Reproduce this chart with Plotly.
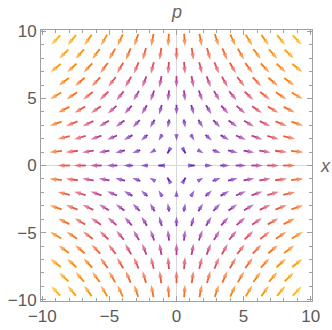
import numpy as np
import plotly.graph_objects as go

# Grid of sample points (hexagonal arrangement)
p_rows = [-9.35, -8.31, -7.27, -6.24, -5.20, -4.16, -3.12, -2.08, -1.04, 0.0,
          1.04, 2.08, 3.12, 4.16, 5.20, 6.24, 7.27, 8.31, 9.35]
x_even = [-8.4, -7.2, -6.0, -4.8, -3.6, -2.4, -1.2, 0.0, 1.2, 2.4, 3.6, 4.8, 6.0, 7.2, 8.4]
x_odd = [-9.0, -7.8, -6.6, -5.4, -4.2, -3.0, -1.8, -0.6, 0.6, 1.8, 3.0, 4.2, 5.4, 6.6, 7.8, 9.0]

# Axis ticks
tick_vals = [-10, -5, 0, 5, 10]

# Colour gradient (small magnitude -> large magnitude)
color_stops = [(0.0, (95, 35, 190)), (0.2, (112, 40, 185)), (0.38, (165, 50, 165)),
               (0.55, (228, 75, 88)), (0.7, (245, 112, 30)), (0.85, (252, 145, 5)),
               (1.0, (255, 178, 0))]


def field(x, p):
    return x, -p


def color_at(t):
    t = min(max(t, 0.0), 1.0)
    for (t0, c0), (t1, c1) in zip(color_stops[:-1], color_stops[1:]):
        if t <= t1:
            f = (t - t0) / (t1 - t0) if t1 > t0 else 0
            c = [round(a + (b - a) * f) for a, b in zip(c0, c1)]
            return "rgb(%d,%d,%d)" % tuple(c)
    return "rgb(%d,%d,%d)" % color_stops[-1][1]


pts = []
for i, p in enumerate(p_rows):
    xs = x_even if i % 2 == 1 else x_odd
    for x in xs:
        if abs(x) < 1e-9 and abs(p) < 1e-9:
            continue
        pts.append((x, p))

mags = [np.hypot(*field(x, p)) for x, p in pts]
mmin, mmax = min(mags), max(mags)
px_per_unit = 13.4

fig = go.Figure()
for (x, p), m in zip(pts, mags):
    u, v = field(x, p)
    L = 13.0 * (1 - np.exp(-m / 3.0)) / px_per_unit
    ux, uy = u / m, v / m
    col = color_at((m - mmin) / (mmax - mmin))
    fig.add_trace(go.Scatter(
        x=[x - 0.5 * L * ux, x + 0.5 * L * ux],
        y=[p - 0.5 * L * uy, p + 0.5 * L * uy],
        mode="lines+markers",
        line=dict(color=col, width=1.8),
        marker=dict(symbol="arrow", size=[0, 7], angleref="previous",
                    color=col, line=dict(width=0)),
        showlegend=False, hoverinfo="skip"))

lab_font = dict(family="Liberation Sans", size=18, color="#666666")
annotations = [
    dict(x=1.048, y=0.5, xref="paper", yref="paper", text="<i>x</i>",
         xanchor="center", yanchor="middle", showarrow=False, font=lab_font),
    dict(x=0.5, y=1.066, xref="paper", yref="paper", text="<i>p</i>",
         xanchor="center", yanchor="middle", showarrow=False, font=lab_font),
]

axis_common = dict(
    range=[-10.1, 10.1], tickvals=tick_vals, ticks="inside", ticklen=5, tickcolor="#a0a0a0",
    showline=True, linecolor="#a0a0a0", linewidth=1, mirror="allticks",
    showgrid=False, zeroline=True, zerolinecolor="#d8d8d8", zerolinewidth=1,
    tickfont=dict(family="Liberation Sans", size=17, color="#5a5a5a"),
    minor=dict(ticks="inside", ticklen=3, dtick=1, tickcolor="#a0a0a0", showgrid=False),
    fixedrange=True, automargin=False,
)
fig.update_xaxes(**axis_common)
fig.update_yaxes(**axis_common)
fig.update_layout(
    width=332, height=330, margin=dict(l=41, r=20, t=30, b=29),
    plot_bgcolor="white", paper_bgcolor="white",
    annotations=annotations, showlegend=False,
)
fig.write_html(
    "out.html",
    config={"displayModeBar": False},
    post_script="document.body.style.margin='0';document.body.style.overflow='hidden';",
)
